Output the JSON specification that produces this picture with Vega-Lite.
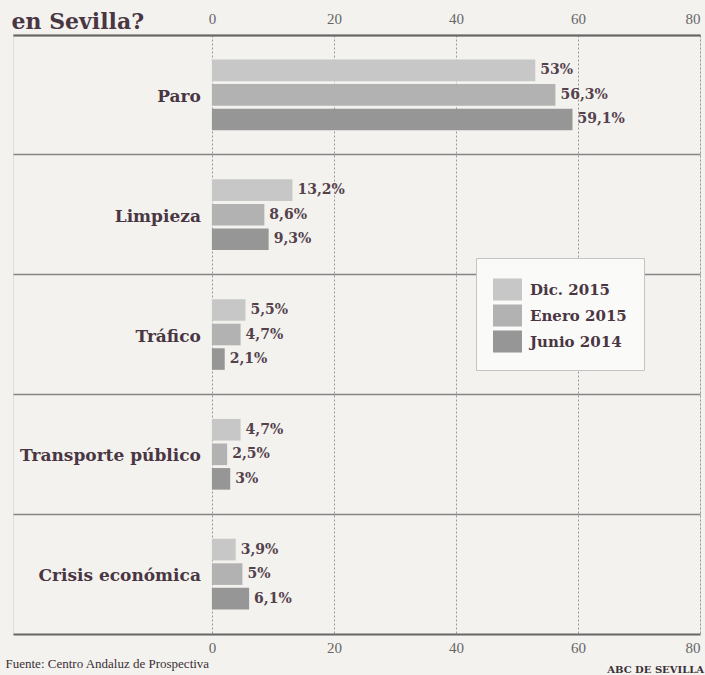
{
  "$schema": "https://vega.github.io/schema/vega-lite/v6.json",
  "width": 687,
  "height": 599,
  "autosize": {"type": "none"},
  "padding": {"left": 13, "top": 35, "right": 5, "bottom": 41},
  "background": "#f3f2ef",
  "title": {
    "text": "ABC DE SEVILLA",
    "orient": "bottom",
    "anchor": "end",
    "frame": "group",
    "font": "DejaVu Serif",
    "fontSize": 10,
    "fontWeight": "bold",
    "color": "#3a2f36",
    "offset": -5,
    "dx": 4
  },
  "data": {
    "values": [
      {"causa": "Paro", "serie": "Dic. 2015", "valor": 53},
      {"causa": "Paro", "serie": "Enero 2015", "valor": 56.3},
      {"causa": "Paro", "serie": "Junio 2014", "valor": 59.1},
      {"causa": "Limpieza", "serie": "Dic. 2015", "valor": 13.2},
      {"causa": "Limpieza", "serie": "Enero 2015", "valor": 8.6},
      {"causa": "Limpieza", "serie": "Junio 2014", "valor": 9.3},
      {"causa": "Tráfico", "serie": "Dic. 2015", "valor": 5.5},
      {"causa": "Tráfico", "serie": "Enero 2015", "valor": 4.7},
      {"causa": "Tráfico", "serie": "Junio 2014", "valor": 2.1},
      {"causa": "Transporte público", "serie": "Dic. 2015", "valor": 4.7},
      {"causa": "Transporte público", "serie": "Enero 2015", "valor": 2.5},
      {"causa": "Transporte público", "serie": "Junio 2014", "valor": 3},
      {"causa": "Crisis económica", "serie": "Dic. 2015", "valor": 3.9},
      {"causa": "Crisis económica", "serie": "Enero 2015", "valor": 5},
      {"causa": "Crisis económica", "serie": "Junio 2014", "valor": 6.1}
    ]
  },
  "transform": [
    {"calculate": "replace(format(datum.valor, '.1~f'), '.', ',') + '%'", "as": "etiqueta"}
  ],
  "resolve": {"axis": {"x": "independent"}},
  "layer": [
    {
      "mark": {"type": "bar", "cornerRadius": 0},
      "encoding": {
        "y": {
          "field": "causa",
          "type": "nominal",
          "sort": ["Paro", "Limpieza", "Tráfico", "Transporte público", "Crisis económica"],
          "scale": {"paddingInner": 0, "paddingOuter": 0},
          "axis": {
            "title": null,
            "labels": false,
            "ticks": false,
            "domain": false,
            "grid": true,
            "bandPosition": 0,
            "gridColor": "#858585",
            "gridWidth": 1.3
          }
        },
        "yOffset": {
          "field": "serie",
          "type": "nominal",
          "sort": ["Dic. 2015", "Enero 2015", "Junio 2014"],
          "scale": {"paddingInner": 0.12, "paddingOuter": 1}
        },
        "x": {
          "field": "valor",
          "type": "quantitative",
          "scale": {"domain": [-32.6, 80], "nice": false, "zero": false},
          "axis": {
            "orient": "top",
            "values": [0, 20, 40, 60, 80],
            "grid": true,
            "gridColor": "#9a9a9a",
            "gridDash": [2, 2],
            "gridWidth": 1,
            "ticks": false,
            "tickSize": 0,
            "domain": true,
            "domainColor": "#666666",
            "domainWidth": 2,
            "labelFont": "Liberation Serif",
            "labelFontSize": 15,
            "labelColor": "#666666",
            "labelPadding": 9,
            "title": "en Sevilla?",
            "titleFont": "DejaVu Serif",
            "titleFontSize": 22,
            "titleFontWeight": "bold",
            "titleColor": "#4a3642",
            "titleAnchor": "start",
            "titleAlign": "left",
            "titleBaseline": "alphabetic",
            "titleX": -2,
            "titleY": -7
          }
        },
        "color": {
          "field": "serie",
          "type": "nominal",
          "scale": {
            "domain": ["Dic. 2015", "Enero 2015", "Junio 2014"],
            "range": ["#c7c7c7", "#b2b2b2", "#969696"]
          },
          "legend": {
            "title": null,
            "orient": "none",
            "legendX": 463,
            "legendY": 223,
            "fillColor": "#fafaf9",
            "strokeColor": "#c4c4c4",
            "padding": 17,
            "symbolType": "M-1,-0.76L1,-0.76L1,0.76L-1,0.76Z",
            "symbolSize": 841,
            "symbolStrokeWidth": 0,
            "symbolOpacity": 1,
            "rowPadding": -1.5,
            "labelOffset": 8,
            "labelFont": "DejaVu Serif",
            "labelFontSize": 15,
            "labelFontWeight": "bold",
            "labelColor": "#4a3642"
          }
        }
      }
    },
    {
      "mark": {
        "type": "text",
        "align": "left",
        "baseline": "middle",
        "dx": 5,
        "font": "DejaVu Serif",
        "fontSize": 14,
        "fontWeight": "bold",
        "color": "#54414c"
      },
      "encoding": {
        "y": {
          "field": "causa",
          "type": "nominal",
          "sort": ["Paro", "Limpieza", "Tráfico", "Transporte público", "Crisis económica"]
        },
        "yOffset": {
          "field": "serie",
          "type": "nominal",
          "sort": ["Dic. 2015", "Enero 2015", "Junio 2014"]
        },
        "x": {
          "field": "valor",
          "type": "quantitative",
          "scale": {"domain": [-32.6, 80], "nice": false, "zero": false},
          "axis": {
            "orient": "bottom",
            "values": [0, 20, 40, 60, 80],
            "grid": false,
            "ticks": false,
            "tickSize": 0,
            "domain": true,
            "domainColor": "#666666",
            "domainWidth": 2,
            "labelFont": "Liberation Serif",
            "labelFontSize": 15,
            "labelColor": "#666666",
            "labelPadding": 6,
            "title": "Fuente: Centro Andaluz de Prospectiva",
            "titleFont": "Liberation Serif",
            "titleFontSize": 13,
            "titleFontWeight": "normal",
            "titleColor": "#3a2f36",
            "titleAnchor": "start",
            "titleAlign": "left",
            "titleBaseline": "alphabetic",
            "titleX": -8,
            "titleY": 33
          }
        },
        "text": {"field": "etiqueta"}
      }
    },
    {
      "transform": [{"filter": "datum.serie == 'Dic. 2015'"}],
      "mark": {
        "type": "text",
        "align": "right",
        "baseline": "middle",
        "dy": 2,
        "font": "DejaVu Serif",
        "fontSize": 17,
        "fontWeight": "bold",
        "color": "#4a3642"
      },
      "encoding": {
        "y": {
          "field": "causa",
          "type": "nominal",
          "sort": ["Paro", "Limpieza", "Tráfico", "Transporte público", "Crisis económica"]
        },
        "x": {
          "datum": -1.8,
          "type": "quantitative",
          "scale": {"domain": [-32.6, 80], "nice": false, "zero": false},
          "axis": null
        },
        "text": {"field": "causa"}
      }
    }
  ]
}
